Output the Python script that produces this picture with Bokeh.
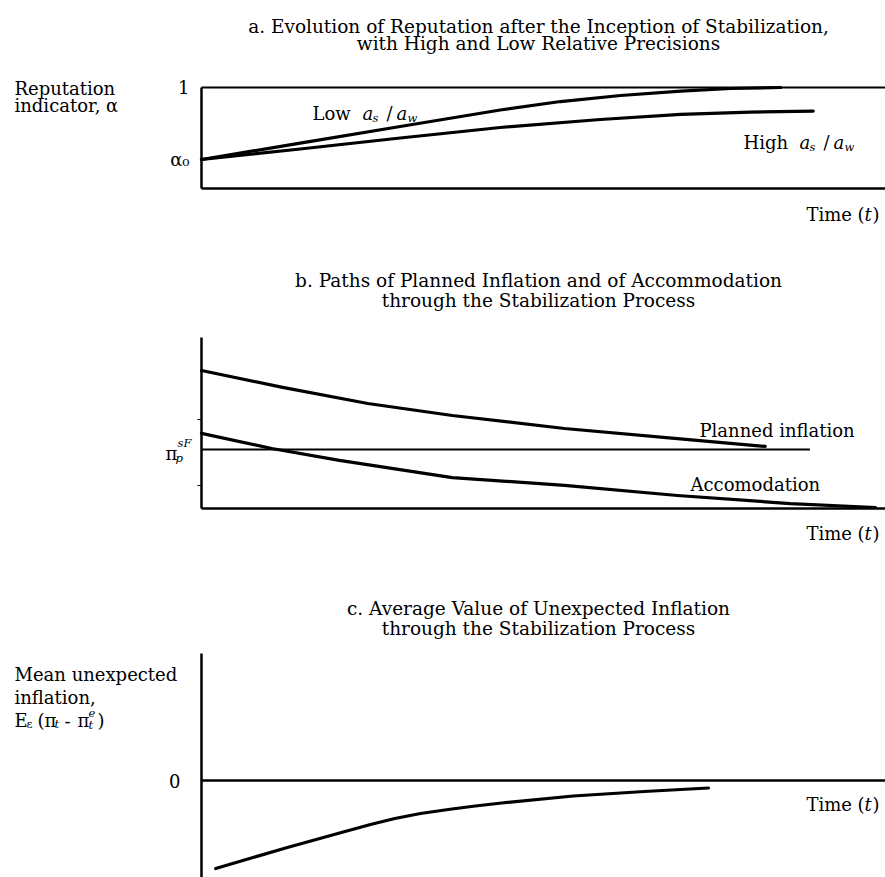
from bokeh.plotting import figure
from bokeh.layouts import column
from bokeh.models import Range1d, FixedTicker, Label, LinearAxis
from bokeh.embed import file_html
from bokeh.resources import INLINE

FONT = "DejaVu Serif"
BODY = 18
TITLE = 18.5
SMALL = 11.5

# ---------------- data ----------------
# Panel a
title_a = ["a. Evolution of Reputation after the Inception of Stabilization,",
           "with High and Low Relative Precisions"]
ylab_a = ["Reputation", "indicator, \u03b1"]
alpha0 = 0.287
alpha_ticks = [alpha0, 1.0]
alpha_tick_labels = ["\u03b1\u2080", "1"]
t_low = [0, 14.6, 29.4, 44.2, 53.1, 62.0, 70.9, 78.3, 85.7]
alpha_low = [0.287, 0.45, 0.614, 0.777, 0.861, 0.921, 0.965, 0.99, 1.0]
t_high = [0, 14.6, 29.4, 44.2, 59.0, 70.9, 81.2, 90.5]
alpha_high = [0.287, 0.391, 0.50, 0.604, 0.683, 0.733, 0.757, 0.767]

# Panel b
title_b = ["b. Paths of Planned Inflation and of Accommodation",
           "through the Stabilization Process"]
t_planned = [0, 12, 24.6, 37.1, 53.7, 70.4, 83.4]
planned = [80.7, 70.8, 61.4, 54.4, 46.8, 40.9, 36.3]
t_accom = [0, 10.4, 20.4, 37.1, 53.7, 70.4, 87.1, 99.7]
accom = [43.9, 35.1, 28.1, 18.1, 13.5, 7.6, 2.9, 0.6]
pi_sF = 34.5
t_pi = [0, 90]
b_minor_ticks = [13.5, 52]

# Panel c
title_c = ["c. Average Value of Unexpected Inflation",
           "through the Stabilization Process"]
ylab_c = ["Mean unexpected", "inflation,"]
t_unexp = [2.1, 12.7, 20.7, 25.0, 28.6, 32.4, 36.5, 40.5, 44.4, 55.0, 65.5, 75.0]
unexp = [-8.8, -6.7, -5.2, -4.4, -3.8, -3.3, -2.9, -2.55, -2.25, -1.55, -1.1, -0.75]

# ---------------- layout helpers ----------------
W = 885
T_END = (885 - 201) / 6.76   # time axis runs to the right edge


def X(sx):
    return (sx - 201) / 6.76


def make(h, yr):
    p = figure(width=W, height=h, x_range=Range1d(X(0), X(W)), y_range=Range1d(*yr),
               output_backend="svg", toolbar_location=None, title=None, tools="",
               min_border=0, min_border_left=0, min_border_right=0,
               min_border_top=0, min_border_bottom=0)
    p.xgrid.visible = False
    p.ygrid.visible = False
    p.outline_line_color = None
    p.background_fill_color = "white"
    p.border_fill_color = "white"
    return p


def style_axis(ax):
    ax.axis_line_width = 2.5
    ax.axis_line_color = "black"
    ax.major_tick_line_color = None
    ax.minor_tick_line_color = None
    ax.major_label_text_font = FONT
    ax.major_label_text_font_size = f"{BODY}px"
    ax.major_label_text_color = "black"


def time_axis(ax, loc):
    style_axis(ax)
    ax.fixed_location = loc
    ax.bounds = (0, T_END)
    ax.ticker = FixedTicker(ticks=[])


def put(p, x, y, text, size=BODY, style="normal", align="left"):
    p.add_layout(Label(x=x, y=y, text=text, text_font=FONT,
                       text_font_size=f"{size}px", text_font_style=style,
                       text_align=align, text_baseline="alphabetic",
                       text_color="black"))


def time_label(p, Y, sy):
    put(p, X(806), Y(sy), "Time")
    put(p, X(857), Y(sy), "(")
    put(p, X(864), Y(sy), "t", style="italic")
    put(p, X(872), Y(sy), ")")


# ---------------- panel a (screen rows 0-240) ----------------
def Ya(sy):
    return (188 - sy) / 101.0


pa = make(240, (Ya(240), Ya(0)))
style_axis(pa.yaxis[0])
pa.yaxis.fixed_location = 0
pa.yaxis.bounds = (0, 1.0)
pa.yaxis.ticker = FixedTicker(ticks=alpha_ticks)
pa.yaxis.major_label_overrides = dict(zip(alpha_ticks, alpha_tick_labels))
pa.yaxis.major_label_standoff = 6
time_axis(pa.xaxis[0], 0)
top_axis = LinearAxis()
time_axis(top_axis, 1.0)
top_axis.axis_line_width = 2
pa.add_layout(top_axis, "above")
pa.line(t_low, alpha_low, line_width=3.2, color="black", line_cap="round", line_join="round")
pa.line(t_high, alpha_high, line_width=3.2, color="black", line_cap="round", line_join="round")

put(pa, X(538), Ya(26), title_a[0], size=TITLE, align="center")
put(pa, X(538), Ya(43), title_a[1], size=TITLE, align="center")
put(pa, X(14), Ya(88), ylab_a[0])
put(pa, X(14), Ya(105), ylab_a[1])
# Low a_s / a_w
put(pa, X(312), Ya(113), "Low")
put(pa, X(362), Ya(113), "a", style="italic")
put(pa, X(372), Ya(117), "s", size=SMALL, style="italic")
put(pa, X(386), Ya(113), "/")
put(pa, X(396), Ya(113), "a", style="italic")
put(pa, X(407), Ya(117), "w", size=SMALL, style="italic")
# High a_s / a_w
put(pa, X(743), Ya(142), "High")
put(pa, X(799), Ya(142), "a", style="italic")
put(pa, X(809), Ya(146), "s", size=SMALL, style="italic")
put(pa, X(823), Ya(142), "/")
put(pa, X(833), Ya(142), "a", style="italic")
put(pa, X(844), Ya(146), "w", size=SMALL, style="italic")
time_label(pa, Ya, 214)


# ---------------- panel b (screen rows 240-560) ----------------
def Yb(sy):
    return (508 - sy) / 1.71


pb = make(320, (Yb(560), Yb(240)))
style_axis(pb.yaxis[0])
pb.yaxis.fixed_location = 0
pb.yaxis.bounds = (0, 100)
pb.yaxis.ticker = FixedTicker(ticks=[], minor_ticks=b_minor_ticks)
pb.yaxis.minor_tick_line_color = "black"
pb.yaxis.minor_tick_out = 4
pb.yaxis.minor_tick_in = 0
pb.yaxis.minor_tick_line_width = 1
time_axis(pb.xaxis[0], 0)
pb.line(t_pi, [pi_sF, pi_sF], line_width=2, color="black")
pb.line(t_planned, planned, line_width=3.2, color="black", line_cap="round", line_join="round")
pb.line(t_accom, accom, line_width=3.2, color="black", line_cap="round", line_join="round")

put(pb, X(538), Yb(280), title_b[0], size=TITLE, align="center")
put(pb, X(538), Yb(300), title_b[1], size=TITLE, align="center")
put(pb, X(165), Yb(453), "\u03c0")
put(pb, X(175), Yb(457), "p", size=SMALL, style="italic")
put(pb, X(177), Yb(442), "sF", size=SMALL, style="italic")
put(pb, X(699), Yb(430), "Planned inflation")
put(pb, X(690), Yb(484), "Accomodation")
time_label(pb, Yb, 533)


# ---------------- panel c (screen rows 560-877) ----------------
def Yc(sy):
    return (780 - sy) / 10.0


pc = make(317, (Yc(877), Yc(560)))
style_axis(pc.yaxis[0])
pc.yaxis.fixed_location = 0
pc.yaxis.bounds = (Yc(877), Yc(653))
pc.yaxis.ticker = FixedTicker(ticks=[0])
pc.yaxis.major_label_overrides = {0: "0"}
pc.yaxis.major_label_standoff = 15
time_axis(pc.xaxis[0], 0)
pc.line(t_unexp, unexp, line_width=3.2, color="black", line_cap="round", line_join="round")

put(pc, X(538), Yc(608), title_c[0], size=TITLE, align="center")
put(pc, X(538), Yc(628), title_c[1], size=TITLE, align="center")
put(pc, X(14), Yc(674), ylab_c[0])
put(pc, X(14), Yc(697), ylab_c[1])
# E_eps (pi_t - pi_t^e)
put(pc, X(14), Yc(720), "E")
put(pc, X(26), Yc(723), "\u03b5", size=SMALL)
put(pc, X(37), Yc(720), "(")
put(pc, X(44), Yc(720), "\u03c0")
put(pc, X(54), Yc(723), "t", size=SMALL, style="italic")
put(pc, X(64), Yc(720), "-")
put(pc, X(77), Yc(720), "\u03c0")
put(pc, X(88), Yc(712), "e", size=SMALL, style="italic")
put(pc, X(88), Yc(724), "t", size=SMALL, style="italic")
put(pc, X(97), Yc(720), ")")
time_label(pc, Yc, 804)

layout = column(pa, pb, pc)
open("out.html", "w").write(file_html(layout, INLINE, title="Stabilization and reputation"))
